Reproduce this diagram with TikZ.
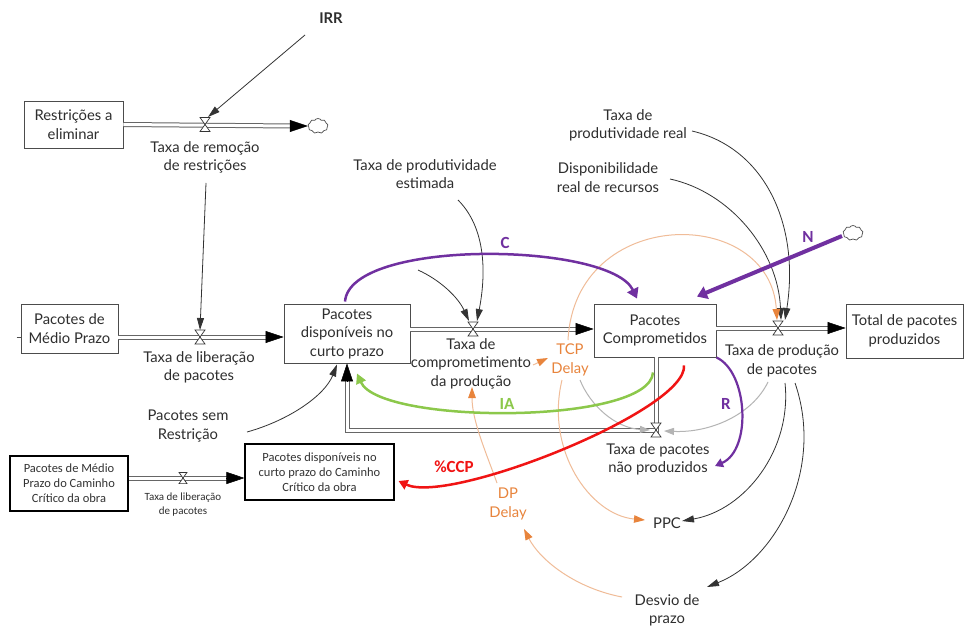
\documentclass[tikz,border=0pt]{standalone}
\usepackage{fontspec}
\setmainfont{Lato}
\newfontfamily\calfont{Carlito}
\usetikzlibrary{arrows.meta,shapes.symbols,calc}

\definecolor{txt}{HTML}{2E2E2E}
\definecolor{purp}{HTML}{7030A0}
\definecolor{grn}{HTML}{8CC84B}
\definecolor{ora}{HTML}{E8843C}
\definecolor{oral}{HTML}{F0BC98}
\definecolor{gry}{HTML}{B4B4B4}
\definecolor{redc}{HTML}{F01414}

\tikzset{
  lbl/.style={align=center, text=txt, font=\fontsize{14.8}{18.5}\selectfont, inner sep=1pt},
  olbl/.style={lbl, text=ora},
  keylbl/.style={font=\calfont\bfseries\fontsize{17}{20}\selectfont, inner sep=0pt},
  stock/.style={draw=black!70, line width=0.9pt, fill=white, align=center, text=txt,
    font=\fontsize{14.8}{18.5}\selectfont, inner sep=0pt},
  cstock/.style={draw=black, line width=1.1pt, fill=white, align=center, text=black!80,
    font=\calfont\fontsize{12.5}{15}\selectfont, inner sep=0pt},
  pipe/.style={draw=black!60, line width=1pt, double=white, double distance=3pt},
  pipehead/.style={draw=black, line width=0.5pt, -{Triangle[length=18pt,width=12pt]}},
  link/.style={draw=black!80, line width=0.8pt, -{Triangle[length=12pt,width=7pt]}},
  glink/.style={draw=gry, line width=1pt, -{Triangle[length=10pt,width=7pt]}},
  olink/.style={draw=oral, line width=1pt, -{Triangle[length=11pt,width=7.5pt,color=ora]}},
  cloudy/.style={cloud, cloud puffs=9, cloud puff arc=120, aspect=1.5, draw=black!70,
    line width=0.7pt, fill=white, minimum width=20pt, minimum height=15pt, inner sep=0pt},
  valve/.pic={\draw[black!80, line width=0.7pt, fill=white]
    (-5,-7) -- (5,-7) -- (-5,7) -- (5,7) -- cycle;}
}

\begin{document}
\begin{tikzpicture}[x=1pt,y=-1pt]
\useasboundingbox (0,0) rectangle (965,628);
\fill[white] (0,0) rectangle (965,628);

% ---------- stocks ----------
\node[stock, minimum width=99pt, minimum height=47pt] (rest) at (73.5,124.5) {Restrições a\\eliminar};
\node[stock, minimum width=97pt, minimum height=49pt] (medio) at (69.5,328.5) {Pacotes de\\Médio Prazo};
\node[stock, minimum width=126pt, minimum height=59pt] (disp) at (347,333.5) {Pacotes\\disponíveis no\\curto prazo};
\node[stock, minimum width=122pt, minimum height=53pt] (comp) at (655,330.5) {Pacotes\\Comprometidos};
\node[stock, minimum width=117pt, minimum height=54pt] (total) at (904.5,331) {Total de pacotes\\produzidos};
\node[cstock, minimum width=118pt, minimum height=55pt] (cmedio) at (69,483.5) {Pacotes de Médio\\Prazo do Caminho\\Crítico da obra};
\node[cstock, minimum width=149pt, minimum height=56pt] (cdisp) at (319.5,472) {Pacotes disponíveis no\\curto prazo do Caminho\\Crítico da obra};

% ---------- clouds ----------
\node[cloudy] (cl1) at (318,126) {};
\node[cloudy] (cl2) at (853,233) {};

% ---------- valve positions ----------
\coordinate (v1) at (205,124.5);
\coordinate (v2) at (200,337);
\coordinate (v3) at (473,329);
\coordinate (v4) at (778,328);
\coordinate (v5) at (656,430);
\coordinate (v6) at (183,478);

% ---------- flows ----------
\draw[pipe] (rest.east) -- ([xshift=-17pt]cl1.west);
\draw[pipehead] ([xshift=-18pt]cl1.west) -- (cl1.west);

\draw[black!70, line width=0.7pt] ([xshift=-4pt]v2 -| medio.west) -- (v2 -| medio.west);
\draw[pipe] (v2 -| medio.east) -- ([xshift=-17pt]v2 -| disp.west);
\draw[pipehead] ([xshift=-18pt]v2 -| disp.west) -- (v2 -| disp.west);

\draw[pipe] (v3 -| disp.east) -- ([xshift=-17pt]v3 -| comp.west);
\draw[pipehead] ([xshift=-18pt]v3 -| comp.west) -- (v3 -| comp.west);

\draw[pipe] (v4 -| comp.east) -- ([xshift=-17pt]v4 -| total.west);
\draw[pipehead] ([xshift=-18pt]v4 -| total.west) -- (v4 -| total.west);

\draw[pipe] (v5 |- comp.south) -- (v5) -- (v5 -| disp.south) -- ([yshift=-17pt]disp.south);
\draw[pipehead] ([yshift=-18pt]disp.south) -- (disp.south);

\draw[pipe] (v6 -| cmedio.east) -- ([xshift=-17pt]v6 -| cdisp.west);
\draw[pipehead] ([xshift=-18pt]v6 -| cdisp.west) -- (v6 -| cdisp.west);

\pic at (v1) {valve};
\pic at (v2) {valve};
\pic at (v3) {valve};
\pic at (v4) {valve};
\pic at (v5) {valve};
\pic[scale=0.8] at (v6) {valve};

% ---------- labels ----------
\node[lbl, font=\bfseries\fontsize{14.8}{18.5}\selectfont] (irr) at (331,18) {IRR};
\node[lbl] (trr) at (205,157.5) {Taxa de remoção\\de restrições};
\node[lbl] (tlp) at (199,367.5) {Taxa de liberação\\de pacotes};
\node[lbl] (tpe) at (425,174) {Taxa de produtividade\\estimada};
\node[lbl] (tpr) at (628,125.5) {Taxa de\\produtividade real};
\node[lbl] (drr) at (608,177.5) {Disponibilidade\\real de recursos};
\node[lbl] (tcp) at (471,363.5) {Taxa de\\comprometimento\\da produção};
\node[lbl] (tpp) at (782,361) {Taxa de produção\\de pacotes};
\node[lbl] (tnp) at (658,459.5) {Taxa de pacotes\\não produzidos};
\node[lbl] (ppc) at (667,523) {PPC};
\node[lbl] (dpz) at (667,610.5) {Desvio de\\prazo};
\node[lbl] (psr) at (188,426) {Pacotes sem\\Restrição};
\node[lbl, font=\calfont\fontsize{11}{14}\selectfont] (tlp2) at (183,505) {Taxa de liberação\\de pacotes};
\node[olbl] (tcpd) at (570,360) {TCP\\Delay};
\node[olbl] (dpd) at (508,504) {DP\\Delay};

\node[keylbl, text=purp] (lc) at (505,243) {C};
\node[keylbl, text=purp] (ln) at (808,237) {N};
\node[keylbl, text=purp] (lr) at (726,404) {R};
\node[keylbl, text=grn] (lia) at (507,404) {IA};
\node[keylbl, text=redc] (lccp) at (454,467) {\%CCP};

% ---------- black links ----------
\coordinate (fx) at (418,270);
\draw[link] ([shift={(-26,17)}]irr.center) -- ([shift={(3,-7.5)}]v1);
\draw[link] ([shift={(1,25.5)}]trr.center) -- ([shift={(0,-7)}]v2);
\draw[link] ([shift={(33,26)}]tpe.center) .. controls (490,232) and (484,285) .. ([shift={(4,-8)}]v3);
\draw[link] (fx) .. controls (440,280) and (458,297) .. ([shift={(-4,-8)}]v3);
\draw[link] ([shift={(64,5.5)}]tpr.center) .. controls (765,148) and (800,225) .. ([shift={(7,-8)}]v4);
\draw[link] ([shift={(62,1.5)}]drr.center) .. controls (730,192) and (778,250) .. ([shift={(3,-8)}]v4);
\draw[link] ([shift={(3,22)}]tpp.center) .. controls (792,450) and (745,510) .. ([shift={(15,-2)}]ppc.center);
\draw[link] ([shift={(13,22)}]tpp.center) .. controls (825,470) and (775,560) .. ([shift={(40,-23.5)}]dpz.center);
\draw[link] ([shift={(59,6)}]psr.center) .. controls (290,420) and (325,395) .. ([shift={(-10,1)}]disp.south);

% ---------- grey links ----------
\draw[glink] ([shift={(10,20)}]tcpd.center) .. controls (590,405) and (615,428) .. ([shift={(-6,0)}]v5);
\draw[glink] ([shift={(-14,21)}]tpp.center) .. controls (752,415) and (710,433) .. ([shift={(8,1)}]v5);

% ---------- orange links ----------
\draw[olink] ([shift={(-2,-20)}]tcpd.center) .. controls (575,205) and (770,205) .. ([shift={(-1,-8)}]v4);
\draw[olink] ([shift={(62,1.5)}]tcp.center) -- ([shift={(-22,-2)}]tcpd.center);
\draw[olink] ([shift={(-8,20)}]tcpd.center) .. controls (545,450) and (590,515) .. ([shift={(-22,-3)}]ppc.center);
\draw[olink] ([shift={(-11,-21)}]dpd.center) .. controls (485,450) and (472,420) .. ([shift={(1,23.5)}]tcp.center);
\draw[olink] ([shift={(-45,-13.5)}]dpz.center) .. controls (575,588) and (540,560) .. ([shift={(16,25)}]dpd.center);

% ---------- coloured feedback links ----------
\draw[purp, line width=2.5pt, -{Triangle[length=10pt,width=12pt]}]
  ([shift={(-2,-2)}]disp.north) .. controls (350,238) and (610,242) .. ([shift={(-18,-5)}]comp.north);
\draw[purp, line width=4pt, -{Triangle[length=10pt,width=13pt]}]
  ([shift={(-11,3)}]cl2.center) -- ([shift={(42,-7)}]comp.north);
\draw[purp, line width=2.2pt, -{Triangle[length=8pt,width=9pt]}]
  (comp.south east) .. controls (748,372) and (752,450) .. ([shift={(57,6.5)}]tnp.center);
\draw[grn, line width=2.5pt, -{Triangle[length=10pt,width=10pt]}]
  ([shift={(-2,15)}]comp.south) .. controls (650,425) and (380,425) .. ([shift={(10,10)}]disp.south);
\draw[redc, line width=2.5pt, -{Triangle[length=9pt,width=10pt]}]
  ([shift={(29,8)}]comp.south) .. controls (688,410) and (450,505) .. ([shift={(4,9)}]cdisp.east);
\end{tikzpicture}
\end{document}
